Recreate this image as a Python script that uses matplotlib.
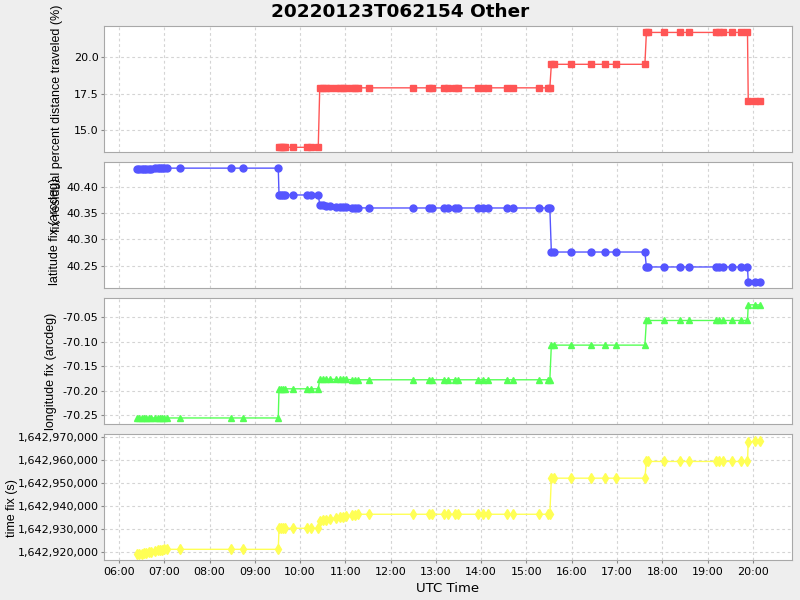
import numpy as np
import pandas as pd
import matplotlib
matplotlib.use("Agg")
import matplotlib.pyplot as plt
import matplotlib.dates as mdates
from matplotlib.ticker import FuncFormatter, FixedLocator

title = "20220123T062154 Other"
day = "2022-01-23"

# observation times (UTC)
times = [
    "06:24", "06:27", "06:30", "06:33", "06:36", "06:39", "06:42", "06:48", "06:51",
    "06:54", "06:57", "07:00", "07:03", "07:21", "08:29", "08:44", "09:31",
    "09:32", "09:34", "09:37", "09:40", "09:50", "10:09", "10:14", "10:24",
    "10:26", "10:30", "10:34", "10:40", "10:48", "10:53", "10:57", "11:01", "11:09",
    "11:13", "11:17", "11:31", "12:29", "12:51", "12:55", "13:11", "13:16", "13:25",
    "13:29", "13:56", "14:02", "14:09", "14:34", "14:42", "15:17", "15:28", "15:31",
    "15:33", "15:37", "15:59", "16:25", "16:44", "16:59", "17:37",
    "17:39", "17:41", "18:02", "18:24", "18:36", "19:11", "19:15", "19:20", "19:32",
    "19:44", "19:53",
    "19:54", "20:03", "20:09",
]

nan = np.nan
residual = [
    nan, nan, nan, nan, nan, nan, nan, nan, nan,
    nan, nan, nan, nan, nan, nan, nan, nan,
    13.84, 13.84, 13.84, 13.84, 13.84, 13.84, 13.84, 13.84,
    17.91, 17.91, 17.91, 17.91, 17.91, 17.91, 17.91, 17.91, 17.91,
    17.91, 17.91, 17.91, 17.91, 17.91, 17.91, 17.91, 17.91, 17.91,
    17.91, 17.91, 17.91, 17.91, 17.91, 17.91, 17.91, 17.91, 17.91,
    19.52, 19.52, 19.52, 19.52, 19.52, 19.52, 19.52,
    21.70, 21.70, 21.70, 21.70, 21.70, 21.70, 21.70, 21.70, 21.70,
    21.70, 21.70,
    17.02, 17.02, 17.02,
]

latitude = [
    40.434, 40.434, 40.434, 40.434, 40.434, 40.434, 40.434, 40.4355, 40.4355,
    40.4355, 40.4355, 40.436, 40.436, 40.436, 40.436, 40.436, 40.436,
    40.3848, 40.3848, 40.3848, 40.3848, 40.3848, 40.3848, 40.3848, 40.3848,
    40.3663, 40.365, 40.364, 40.3635, 40.362, 40.3615, 40.361, 40.361, 40.3605,
    40.3605, 40.3603, 40.360, 40.360, 40.360, 40.360, 40.360, 40.360, 40.360,
    40.360, 40.360, 40.360, 40.360, 40.360, 40.360, 40.360, 40.360, 40.360,
    40.276, 40.276, 40.276, 40.276, 40.276, 40.276, 40.276,
    40.2475, 40.2475, 40.2475, 40.2475, 40.2475, 40.2475, 40.2475, 40.2475, 40.2475,
    40.2475, 40.2475,
    40.219, 40.219, 40.219,
]

longitude = [
    -70.2554, -70.2554, -70.2554, -70.2554, -70.2554, -70.2554, -70.2554, -70.2554, -70.2554,
    -70.2554, -70.2554, -70.2554, -70.2554, -70.2554, -70.2554, -70.2554, -70.2554,
    -70.196, -70.196, -70.196, -70.196, -70.196, -70.196, -70.196, -70.196,
    -70.1765, -70.1765, -70.1765, -70.1765, -70.177, -70.177, -70.177, -70.177, -70.1775,
    -70.1775, -70.1776, -70.1776, -70.1776, -70.1776, -70.1776, -70.1776, -70.1776, -70.1776,
    -70.1776, -70.1776, -70.1776, -70.1776, -70.1776, -70.1776, -70.1776, -70.1776, -70.1776,
    -70.107, -70.107, -70.107, -70.107, -70.107, -70.107, -70.107,
    -70.0568, -70.0568, -70.0568, -70.0568, -70.0568, -70.0568, -70.0568, -70.0568, -70.0568,
    -70.0568, -70.0568,
    -70.025, -70.025, -70.025,
]

time_fix = [
    1642919130, 1642919130, 1642919300, 1642919500, 1642919700, 1642920000, 1642920300, 1642920600, 1642920870,
    1642920900, 1642921100, 1642921300, 1642921300, 1642921300, 1642921300, 1642921300, 1642921300,
    1642930430, 1642930430, 1642930430, 1642930430, 1642930430, 1642930430, 1642930430, 1642930430,
    1642933480, 1642933900, 1642934000, 1642934500, 1642935000, 1642935300, 1642935500, 1642935700, 1642936000,
    1642936300, 1642936500, 1642936500, 1642936500, 1642936500, 1642936500, 1642936500, 1642936500, 1642936500,
    1642936500, 1642936500, 1642936500, 1642936500, 1642936500, 1642936500, 1642936500, 1642936500, 1642936500,
    1642952150, 1642952150, 1642952150, 1642952150, 1642952150, 1642952150, 1642952150,
    1642959400, 1642959400, 1642959400, 1642959400, 1642959400, 1642959400, 1642959400, 1642959400, 1642959400,
    1642959400, 1642959400,
    1642967830, 1642968200, 1642968400,
]

x_ticks = ["06:00", "07:00", "08:00", "09:00", "10:00", "11:00", "12:00", "13:00",
           "14:00", "15:00", "16:00", "17:00", "18:00", "19:00", "20:00"]

t = pd.to_datetime([f"{day} {s}" for s in times])

# (values, colour, marker, size, label, ylim, yticks, format, label x, label y)
panels = [
    (residual, "#ff5555", "s", 5.0, "fix residual percent distance traveled (%)",
     (13.52, 22.14), [15.0, 17.5, 20.0], "{:.1f}", -0.0596, 0.27),
    (latitude, "#5555ff", "o", 5.0, "latitude fix (arcdeg)",
     (40.2074, 40.4477), [40.25, 40.30, 40.35, 40.40], "{:.2f}", -0.063, 0.45),
    (longitude, "#55ff55", "^", 5.0, "longitude fix (arcdeg)",
     (-70.2677, -70.011), [-70.25, -70.20, -70.15, -70.10, -70.05], "{:.2f}", -0.069, 0.42),
    (time_fix, "#ffff55", "d", 5.5, "time fix (s)",
     (1642916670, 1642971300), [1642920000, 1642930000, 1642940000, 1642950000,
                                1642960000, 1642970000], "{:,.0f}", -0.1245, 0.413),
]

label_font = ["Liberation Sans Narrow", "Liberation Sans"]

fig = plt.figure(figsize=(8, 6), dpi=100, facecolor="#eeeeee")
fig.suptitle(title, fontsize=13.3, fontweight="bold", y=0.995)

left, width = 104 / 800, 688 / 800
tops = [26, 162, 298, 434]
height = 126 / 600

for i, (vals, color, marker, ms, label, ylim, yt, fmt, lx, ly) in enumerate(panels):
    bottom = 1 - (tops[i] + 126) / 600
    ax = fig.add_axes([left, bottom, width, height])
    ax.set_facecolor("white")
    ax.plot(t, vals, color=color, lw=1.0, marker=marker, ms=ms, mec=color, mfc=color)
    ax.set_ylim(*ylim)
    ax.set_xlim(pd.Timestamp(f"{day} 05:40"), pd.Timestamp(f"{day} 20:52"))
    ax.yaxis.set_major_locator(FixedLocator(yt))
    ax.yaxis.set_major_formatter(FuncFormatter(lambda v, p, f=fmt: f.format(v)))
    ax.xaxis.set_major_locator(FixedLocator(mdates.date2num(
        pd.to_datetime([f"{day} {s}" for s in x_ticks]))))
    ax.xaxis.set_major_formatter(mdates.DateFormatter("%H:%M"))
    ax.grid(True, color="#d4d4d4", linestyle=(0, (2.5, 2.5)), linewidth=0.8)
    ax.set_axisbelow(True)
    for sp in ax.spines.values():
        sp.set_color("#a8a8a8")
    ax.tick_params(axis="y", labelsize=8, length=2, color="#888888", pad=2)
    if i < 3:
        ax.tick_params(axis="x", length=0, labelbottom=False)
    else:
        ax.tick_params(axis="x", labelsize=8, length=2, color="#888888", pad=3)
        ax.set_xlabel("UTC Time", fontsize=9.5)
    ax.set_ylabel(label, fontsize=9, family=label_font)
    ax.yaxis.set_label_coords(lx, ly)

fig.savefig("out.png", dpi=100, facecolor=fig.get_facecolor())
